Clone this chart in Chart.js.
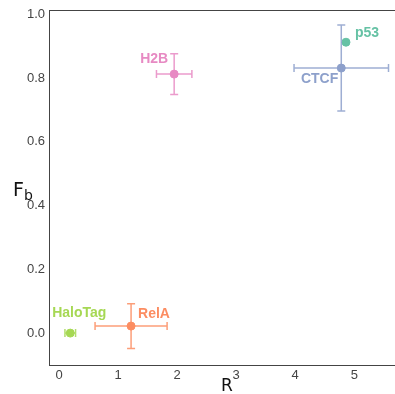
<!DOCTYPE html>
<html>
<head>
<meta charset="utf-8">
<script src="https://cdn.jsdelivr.net/npm/chart.js@4/dist/chart.umd.min.js"></script>
<style>
  html, body { margin: 0; padding: 0; background: #fff; }
  #wrap { width: 395px; height: 394px; }
</style>
</head>
<body>
<div id="wrap"><canvas id="chart" width="395" height="394"></canvas></div>
<script>
// data
const names = ["HaloTag", "RelA", "H2B", "CTCF", "p53"];
const rValues = [0.19, 1.22, 1.95, 4.78, 4.86];
const fbValues = [0.0, 0.022, 0.812, 0.831, 0.912];
const rErrors = [0.09, 0.61, 0.30, 0.80, 0];
const fbErrors = [0, 0.07, 0.064, 0.135, 0];
const xTicks = [0, 1, 2, 3, 4, 5];
const yTicks = [0, 0.2, 0.4, 0.6, 0.8, 1.0];

// styling
const colors = ["#a6d854", "#fc8d62", "#e78ac3", "#8da0cb", "#66c2a5"];
// label placement: [dx, dy, align]
const labelPos = [
  [9, -20, "center"],
  [7, -12, "left"],
  [-6, -15, "right"],
  [-3, 11, "right"],
  [9, -9, "left"]
];
const axisColor = "#444";

const errorBars = {
  id: "errorBars",
  afterDatasetsDraw(chart) {
    const ctx = chart.ctx;
    const xs = chart.scales.x, ys = chart.scales.y;
    const cap = 4;
    ctx.save();
    names.forEach((n, i) => {
      const px = xs.getPixelForValue(rValues[i]);
      const py = ys.getPixelForValue(fbValues[i]);
      ctx.strokeStyle = colors[i];
      ctx.globalAlpha = 0.85;
      ctx.lineWidth = 1.5;
      if (rErrors[i] > 0) {
        const x1 = xs.getPixelForValue(rValues[i] - rErrors[i]);
        const x2 = xs.getPixelForValue(rValues[i] + rErrors[i]);
        ctx.beginPath();
        ctx.moveTo(x1, py); ctx.lineTo(x2, py);
        ctx.moveTo(x1, py - cap); ctx.lineTo(x1, py + cap);
        ctx.moveTo(x2, py - cap); ctx.lineTo(x2, py + cap);
        ctx.stroke();
      }
      if (fbErrors[i] > 0) {
        const y1 = ys.getPixelForValue(fbValues[i] - fbErrors[i]);
        const y2 = ys.getPixelForValue(fbValues[i] + fbErrors[i]);
        ctx.beginPath();
        ctx.moveTo(px, y1); ctx.lineTo(px, y2);
        ctx.moveTo(px - cap, y1); ctx.lineTo(px + cap, y1);
        ctx.moveTo(px - cap, y2); ctx.lineTo(px + cap, y2);
        ctx.stroke();
      }
      // labels
      ctx.globalAlpha = 1;
      ctx.fillStyle = colors[i];
      ctx.font = "bold 14px 'Liberation Sans', Arial, sans-serif";
      ctx.textAlign = labelPos[i][2];
      ctx.textBaseline = "middle";
      ctx.fillText(n, px + labelPos[i][0], py + labelPos[i][1]);
    });

    // top border + axis titles
    const a = chart.chartArea;
    ctx.strokeStyle = axisColor;
    ctx.lineWidth = 1;
    ctx.beginPath();
    ctx.moveTo(a.left, a.top + 0.5);
    ctx.lineTo(a.right, a.top + 0.5);
    ctx.stroke();

    ctx.fillStyle = "#111";
    ctx.textBaseline = "alphabetic";
    ctx.textAlign = "center";
    ctx.font = "17px 'DejaVu Sans', sans-serif";
    ctx.fillText("R", 227, 391);
    ctx.textAlign = "left";
    ctx.font = "19px 'DejaVu Sans', sans-serif";
    ctx.fillText("F", 13, 196);
    ctx.font = "14px 'DejaVu Sans', sans-serif";
    ctx.fillText("b", 24, 200);
    ctx.restore();
  }
};

new Chart(document.getElementById("chart"), {
  type: "scatter",
  data: {
    datasets: [{
      data: names.map((n, i) => ({ x: rValues[i], y: fbValues[i] })),
      backgroundColor: colors,
      borderColor: colors,
      pointRadius: 4,
      pointHoverRadius: 4
    }]
  },
  options: {
    responsive: false,
    animation: false,
    layout: { autoPadding: false, padding: { top: 10, right: 0, left: 0, bottom: 0 } },
    plugins: { legend: { display: false }, tooltip: { enabled: false } },
    scales: {
      x: {
        type: "linear",
        min: -0.17,
        max: 5.69,
        afterBuildTicks: (s) => { s.ticks = xTicks.map(v => ({ value: v })); },
        afterFit: (s) => { s.height = 29; s.paddingLeft = 0; s.paddingRight = 0; },
        grid: { display: false, drawTicks: false },
        border: { display: true, color: axisColor, width: 1 },
        ticks: {
          color: axisColor,
          padding: 3,
          font: { family: "'Liberation Sans', Arial, sans-serif", size: 13 },
          callback: (v) => String(v)
        }
      },
      y: {
        type: "linear",
        min: -0.1,
        max: 1.013,
        afterBuildTicks: (s) => { s.ticks = yTicks.map(v => ({ value: v })); },
        afterFit: (s) => { s.width = 49; s.paddingTop = 0; s.paddingBottom = 0; },
        grid: { display: false, drawTicks: false },
        border: { display: true, color: axisColor, width: 1 },
        ticks: {
          color: axisColor,
          padding: 4,
          font: { family: "'Liberation Sans', Arial, sans-serif", size: 13 },
          callback: (v) => v.toFixed(1)
        }
      }
    }
  },
  plugins: [errorBars]
});
</script>
</body>
</html>
